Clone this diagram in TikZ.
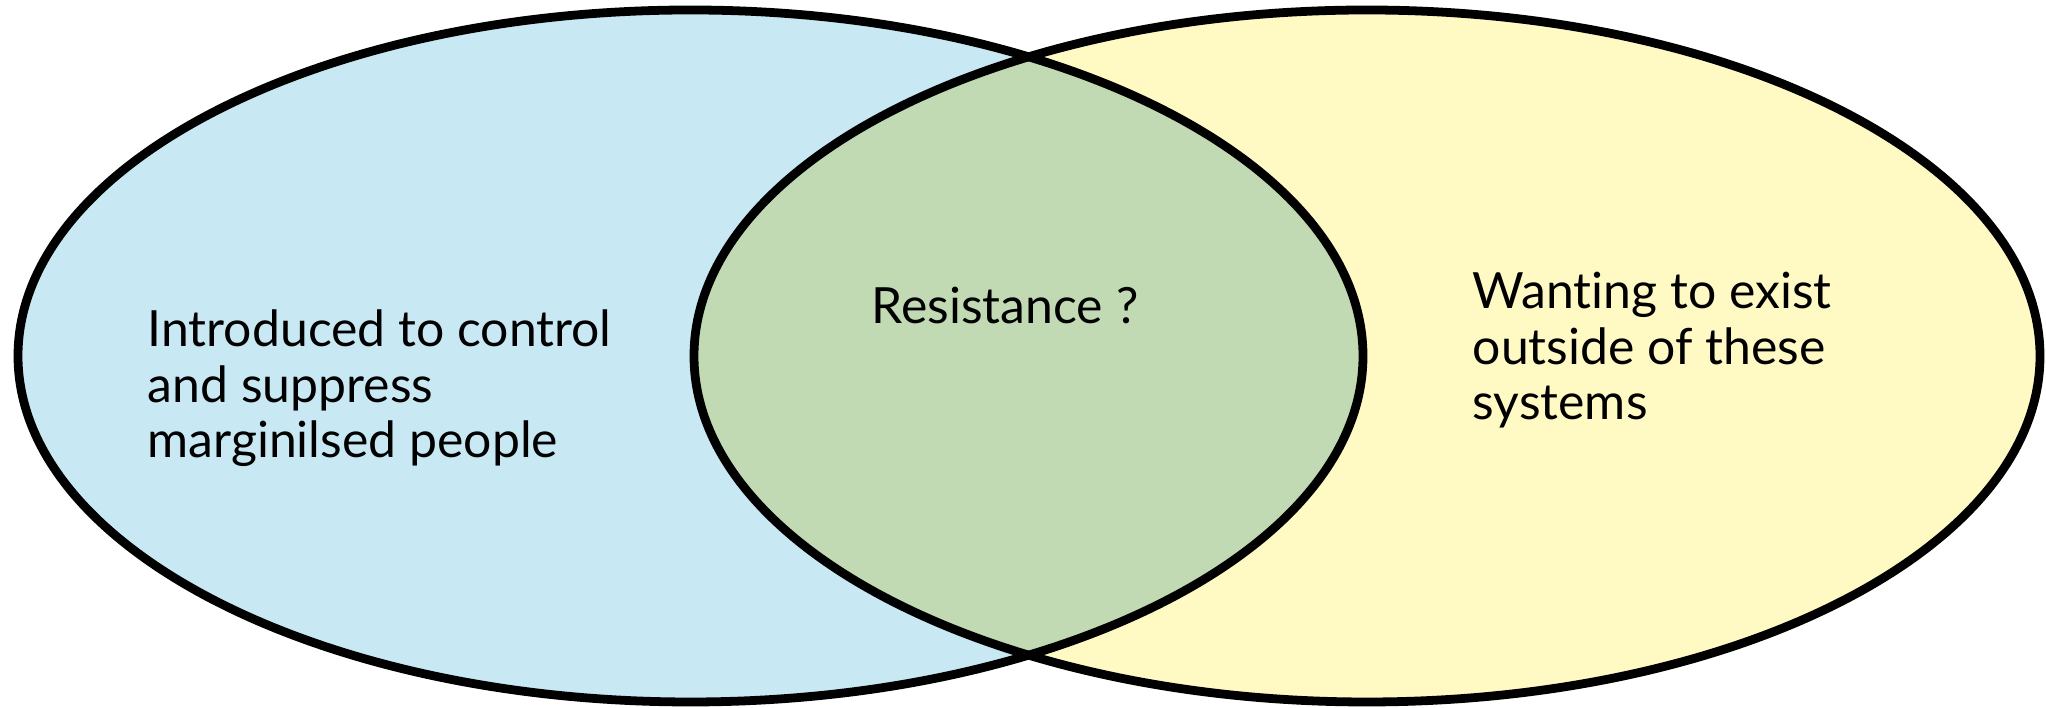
\documentclass[tikz,border=0pt]{standalone}
\usepackage{fontspec}
\setmainfont{Lato}[Ligatures=NoCommon]
\definecolor{setA}{HTML}{C8E9F4}
\definecolor{setB}{HTML}{FFF9C4}
\definecolor{setAB}{HTML}{C1DAB4}
\begin{document}
\begin{tikzpicture}[
  outline/.style={draw=black, line width=2.5pt},
  label/.style={inner sep=0pt, align=left, anchor=base west, font=\fontsize{14.2}{15.9}\selectfont}
]
\useasboundingbox (0,0) rectangle (20.46,7.08);
\coordinate (cA) at (6.905,3.52);
\coordinate (cB) at (13.67,3.52);
\fill[setA] (cA) ellipse [x radius=6.725cm, y radius=3.46cm];
\fill[setB] (cB) ellipse [x radius=6.73cm, y radius=3.46cm];
\begin{scope}
  \clip (cA) ellipse [x radius=6.725cm, y radius=3.46cm];
  \fill[setAB] (cB) ellipse [x radius=6.73cm, y radius=3.46cm];
\end{scope}
\draw[outline] (cA) ellipse [x radius=6.725cm, y radius=3.46cm];
\draw[outline] (cB) ellipse [x radius=6.73cm, y radius=3.46cm];
\node[label] (tA) at (1.47,2.50) {Introduced to control\\and suppress\\marginilsed people};
\node[label] (tAB) at (8.71,3.84) {Resistance ?};
\node[label] (tB) at (14.72,2.88) {Wanting to exist\\outside of these\\systems};
\end{tikzpicture}
\end{document}
